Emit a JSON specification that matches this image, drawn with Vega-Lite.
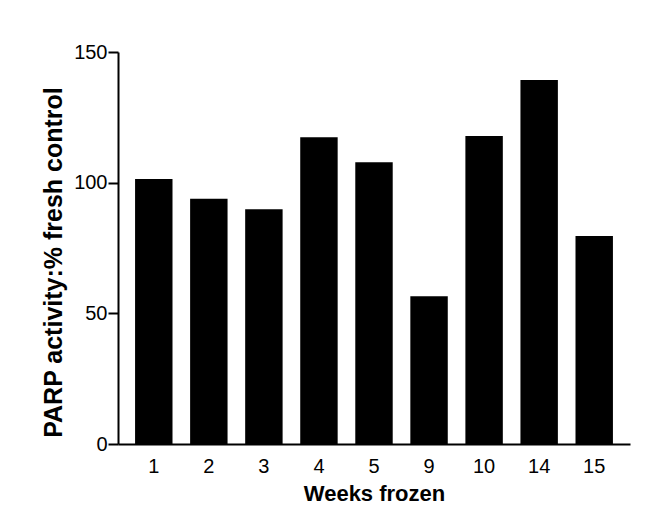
{
  "$schema": "https://vega.github.io/schema/vega-lite/v6.json",
  "autosize": "none",
  "width": 512,
  "height": 392,
  "padding": {"left": 118, "top": 52, "right": 23, "bottom": 81},
  "background": "white",
  "config": {
    "view": {"stroke": null},
    "font": "Liberation Sans"
  },
  "data": {
    "values": [
      {"week": "1", "activity": 101.4},
      {"week": "2", "activity": 93.8},
      {"week": "3", "activity": 89.8},
      {"week": "4", "activity": 117.4},
      {"week": "5", "activity": 107.8},
      {"week": "9", "activity": 56.5},
      {"week": "10", "activity": 117.9},
      {"week": "14", "activity": 139.3},
      {"week": "15", "activity": 79.6}
    ]
  },
  "mark": {"type": "bar", "color": "black"},
  "encoding": {
    "x": {
      "field": "week",
      "type": "ordinal",
      "sort": null,
      "scale": {"paddingInner": 0.32, "paddingOuter": 0.31},
      "axis": {
        "title": "Weeks frozen",
        "titleFont": "Liberation Sans",
        "titleFontSize": 22,
        "titleFontWeight": "bold",
        "titleColor": "black",
        "titlePadding": 7,
        "labelAngle": 0,
        "labelFontSize": 20,
        "labelColor": "black",
        "labelPadding": 12,
        "ticks": false,
        "domainColor": "black",
        "domainWidth": 2
      }
    },
    "y": {
      "field": "activity",
      "type": "quantitative",
      "scale": {"domain": [0, 150], "nice": false},
      "axis": {
        "title": "PARP activity:% fresh control",
        "titleFont": "Liberation Sans",
        "titleFontSize": 25,
        "titleFontWeight": "bold",
        "titleColor": "black",
        "titlePadding": 7,
        "titleY": 210,
        "values": [0, 50, 100, 150],
        "grid": false,
        "labelFontSize": 20,
        "labelColor": "black",
        "labelPadding": 1,
        "tickSize": 10,
        "tickColor": "black",
        "tickWidth": 2,
        "domainColor": "black",
        "domainWidth": 2
      }
    }
  }
}
